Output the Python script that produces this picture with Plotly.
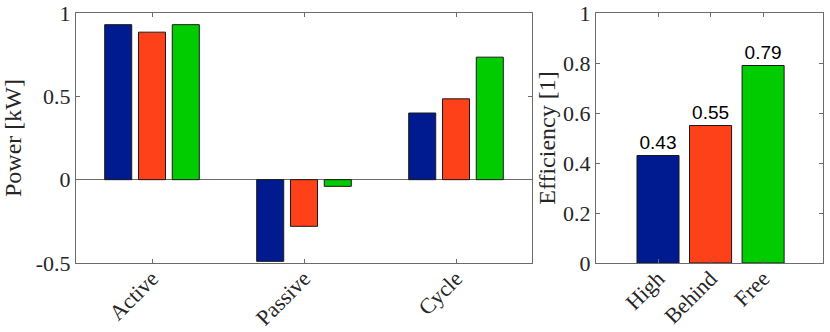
import plotly.graph_objects as go

# ---- data ----
phases = ["Active", "Passive", "Cycle"]
series_names = ["High", "Behind", "Free"]
power_high = [0.93, -0.49, 0.40]
power_behind = [0.885, -0.28, 0.485]
power_free = [0.93, -0.04, 0.735]
efficiency = [0.43, 0.55, 0.79]
colors = ["#001A8F", "#FF4119", "#00CC00"]

serif = "Liberation Serif"
sans = "Liberation Sans"
axis_grey = "#6b6b6b"
text_col = "#262626"

fig = go.Figure()
for name, vals, col in zip(series_names, [power_high, power_behind, power_free], colors):
    fig.add_trace(go.Bar(
        x=phases, y=vals, name=name, marker=dict(color=col, line=dict(color="#1a1a1a", width=1)),
        xaxis="x", yaxis="y", showlegend=False,
    ))

fig.add_trace(go.Bar(
    x=series_names, y=efficiency, width=0.8,
    marker=dict(color=colors, line=dict(color="#1a1a1a", width=1)),
    text=[f"{v:.2f}" for v in efficiency], textposition="outside",
    textfont=dict(family=sans, size=19, color="black"), cliponaxis=False,
    xaxis="x2", yaxis="y2", showlegend=False,
))

W, H = 830, 332
def fx(px): return px / W
def fy(py): return 1 - py / H

common_axis = dict(showline=True, linecolor=axis_grey, linewidth=1, mirror="ticks",
                   ticks="inside", ticklen=4, tickcolor=axis_grey, showgrid=False,
                   ticklabeloverflow="allow",
                   tickfont=dict(family=serif, size=22, color=text_col), automargin=False)

fig.update_layout(
    width=W, height=H, margin=dict(l=0, r=0, t=0, b=0),
    paper_bgcolor="white", plot_bgcolor="white",
    barmode="group", bargap=0.333, bargroupgap=0.2,
    xaxis=dict(domain=[fx(76), fx(532)], range=[-0.5, 2.5], tickangle=-45,
               ticklabelstandoff=-7, zeroline=False, anchor="y", **common_axis),
    yaxis=dict(domain=[fy(263), fy(13)], range=[-0.5, 1], tickvals=[-0.5, 0, 0.5, 1],
               ticktext=["-0.5", "0", "0.5", "1"], zeroline=True, zerolinecolor=axis_grey,
               zerolinewidth=1, anchor="x",
               title=dict(text="Power [kW]", font=dict(family=serif, size=24, color=text_col), standoff=10),
               **common_axis),
    xaxis2=dict(domain=[fx(596), fx(823)], range=[-1.18, 3.14], tickangle=-45,
                ticklabelstandoff=-7, zeroline=False, anchor="y2", **common_axis),
    yaxis2=dict(domain=[fy(263), fy(13)], range=[0, 1], tickvals=[0, 0.2, 0.4, 0.6, 0.8, 1],
                ticktext=["0", "0.2", "0.4", "0.6", "0.8", "1"], zeroline=False, anchor="x2",
                title=dict(text="Efficiency [1]", font=dict(family=serif, size=24, color=text_col), standoff=0),
                **common_axis),
)

fig.write_html("out.html", config={"displayModeBar": False},
               post_script="document.body.style.margin='0';")
